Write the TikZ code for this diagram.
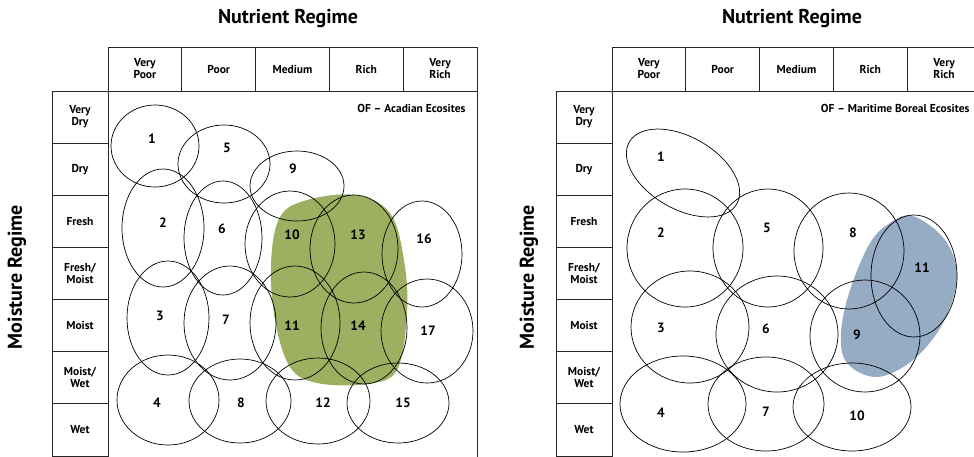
\documentclass[tikz,border=0pt]{standalone}
\usepackage{fontspec}
\setsansfont{PT Sans}
\usetikzlibrary{positioning}

\definecolor{acadiangreen}{RGB}{157,175,96}
\definecolor{borealblue}{RGB}{150,171,196}

\tikzset{
    cell/.style={draw=black!85, line width=0.8pt, inner sep=0pt, outer sep=0pt, align=center,
        font=\sffamily\bfseries\fontsize{11.5}{12}\selectfont},
    headcell/.style={cell, minimum width=73.8pt, minimum height=44pt},
    rowcell/.style={cell, minimum width=56pt, minimum height=52.14pt},
    axistitle/.style={font=\sffamily\bfseries\fontsize{20}{22}\selectfont},
    subtitle/.style={anchor=east, font=\sffamily\bfseries\fontsize{11.5}{14}\selectfont},
    num/.style={font=\sffamily\bfseries\fontsize{13.5}{15}\selectfont},
    site/.style={line width=0.7pt},
}

\begin{document}
\begin{tikzpicture}[x=1pt, y=-1pt]
    \useasboundingbox (0,0) rectangle (974,456);

    % shaded groups first, outlines on top
    \fill[acadiangreen] plot[smooth cycle, tension=0.6] coordinates {(271,263) (280,217) (307,200) (355,195)
        (390,213) (404,260) (407,313) (397,370) (367,384) (317,383) (290,367) (275,320)};
    \fill[borealblue] plot[smooth cycle, tension=0.6] coordinates {(913,216) (945,240) (957,277) (943,323)
        (913,360) (877,377) (847,363) (841,333) (850,290) (870,243) (890,223)};

    % the two grids
    \foreach \dx in {0,504} {
        \begin{scope}[xshift=\dx pt]
            \foreach \lab [count=\i] in {{Very\\Poor},Poor,Medium,Rich,{Very\\Rich}}
                \node[headcell] (h\dx-\i) at ({108+73.8*(\i-0.5)},69) {\lab};
            \foreach \lab [count=\i] in {{Very\\Dry},Dry,Fresh,{Fresh/\\Moist},Moist,{Moist/\\Wet},Wet}
                \node[rowcell] (r\dx-\i) at (80,{91+52.14*(\i-0.5)}) {\lab};
            \draw[draw=black!85, line width=0.8pt] (h\dx-5.south east) -- ++(0,380);
            \node[axistitle] (nr\dx) at (288,19) {Nutrient Regime};
        \end{scope}
    }
    \node[axistitle, rotate=90] (mr0) at (17,277) {Moisture Regime};
    \node[axistitle, rotate=90] (mr504) at (529,277) {Moisture Regime};

    \node[subtitle] (acadian) at (469,108) {OF – Acadian Ecosites};
    \node[subtitle] (boreal) at (973,108) {OF – Maritime Boreal Ecosites};

    % Acadian ecosites
    \foreach \cx/\cy/\rx/\ry in {155/146/44/41, 163/228/41/59, 224/164/46/39, 223/238/39/57,
        297/186/47/35, 290/244/45/53, 354/249/44/54, 422/254/40/53, 168/318/41/57,
        230/323/46/57, 295/323/45/57, 364/328/43/56, 427/331/46/52, 168/400/51/45,
        240/401/51/42, 318/401/52/43, 398/403/51/40}
        \draw[site] (\cx,\cy) ellipse [x radius=\rx, y radius=\ry];
    \foreach \n/\lx/\ly in {1/152/139, 5/227/148, 9/293/169, 2/163/223, 6/222/229, 10/292/235,
        13/358/235, 16/424/239, 3/160/316, 7/226/320, 11/292/326, 14/358/326, 17/428/331,
        4/157/403, 8/241/403, 12/323/403, 15/403/403}
        \node[num] (a\n) at (\lx,\ly) {\n};

    % Maritime Boreal ecosites
    \draw[site] (683,173) ellipse [x radius=62, y radius=36, rotate=-30];
    \foreach \cx/\cy/\rx/\ry in {685/248/58/59, 768/248/55/59, 849/251/55/58, 914/276/43/61,
        690/327/59/56, 777/334/61/58, 865/336/55/56, 683/404/63/48, 766/404/58/47, 852/407/59/44}
        \draw[site] (\cx,\cy) ellipse [x radius=\rx, y radius=\ry];
    \foreach \n/\lx/\ly in {1/661/157, 2/661/233, 5/767/228, 8/853/233, 11/922/268, 3/661/328,
        6/766/329, 9/857/335, 4/661/413, 7/766/412, 10/857/416}
        \node[num] (b\n) at (\lx,\ly) {\n};
\end{tikzpicture}
\end{document}
